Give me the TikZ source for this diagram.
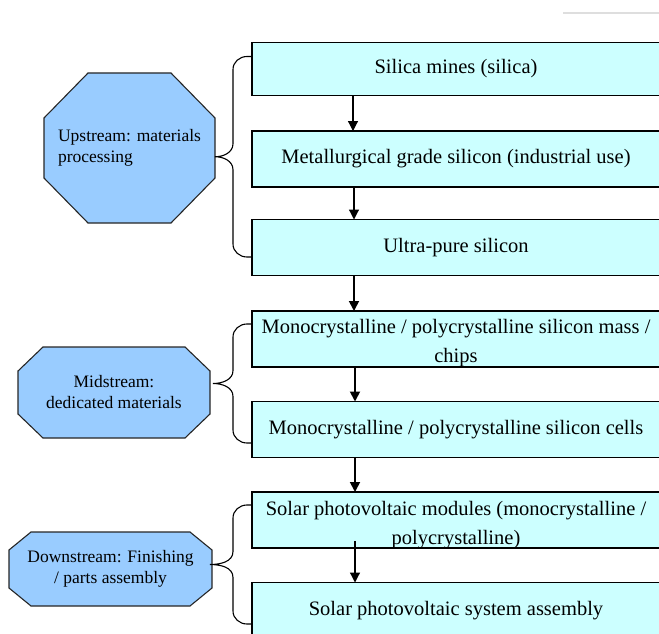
\documentclass[tikz,border=0pt]{standalone}
\usepackage{fontspec}
\setmainfont{Liberation Serif}
\usetikzlibrary{arrows.meta,calc,backgrounds}
\definecolor{boxcyan}{HTML}{CCFFFF}
\definecolor{octblue}{HTML}{99CCFF}
\newcommand\octagonpath[3]{%
  \draw[octline] ([xshift=#2]#1.north west) -- ([xshift=-#2]#1.north east)
    -- ([yshift=-#3]#1.north east) -- ([yshift=#3]#1.south east)
    -- ([xshift=-#2]#1.south east) -- ([xshift=#2]#1.south west)
    -- ([yshift=#3]#1.south west) -- ([yshift=-#3]#1.north west) -- cycle;}
\newcommand\curlybrace[3]{%
  \draw[bracket] let \p1=(#1), \p2=(#2), \p3=(#3), \p4=($(#1)!0.5!(#2)$) in
    (#1) -- (\x1-5pt,\y1) to[out=180,in=90] (\x1-19pt,\y1-13pt)
    -- (\x1-19pt,\y4+13pt) to[out=-90,in=0] (\x3,\y4)
    to[out=0,in=90] (\x1-19pt,\y4-13pt)
    -- (\x1-19pt,\y2+13pt) to[out=-90,in=180] (\x1-5pt,\y2) -- (#2);}
\begin{document}
\begin{tikzpicture}[x=1pt,y=-1pt,
  stagebox/.style={draw=black, line width=1.6pt, fill=boxcyan, minimum width=408pt,
    minimum height=56pt, inner sep=0pt, outer sep=0pt, align=center,
    font=\fontsize{20.5}{29}\selectfont},
  boxtext/.style={inner sep=0pt, align=center, font=\fontsize{20.5}{29}\selectfont},
  octnode/.style={inner sep=0pt, outer sep=0pt, font=\fontsize{17.5}{21}\selectfont},
  octline/.style={draw=black!85, line width=1.1pt, fill=octblue},
  flow/.style={draw=black, line width=1.2pt, -{Triangle[width=10pt,length=10pt]}},
  flowthick/.style={flow, line width=1.8pt},
  bracket/.style={draw=black, line width=1.1pt},
  pagerule/.style={draw=black!13, line width=2pt}
]
\useasboundingbox (0,0) rectangle (659,634);
\clip (0,0) rectangle (659,634);

% stage boxes
\node[stagebox, minimum height=53pt] (b1) at (456,69) {Silica mines (silica)};
\node[stagebox] (b2) at (456,159) {Metallurgical grade silicon (industrial use)};
\node[stagebox] (b3) at (456,247.5) {Ultra-pure silicon};
\node[stagebox] (b4) at (456,339) {};
\node[boxtext] (b4t) at (456,343.5) {Monocrystalline / polycrystalline silicon mass /\\ chips};
\node[stagebox] (b5) at (456,429.5) {Monocrystalline / polycrystalline silicon cells};
\node[stagebox] (b6) at (456,520) {};
\node[boxtext] (b6t) at (456,525.5) {Solar photovoltaic modules (monocrystalline /\\ polycrystalline)};
\node[stagebox] (b7) at (456,610.5) {Solar photovoltaic system assembly};

% arrows
\draw[flow] ([xshift=-103pt]b1.south) -- ([xshift=-103pt]b2.north);
\draw[flow] ([xshift=-102pt]b2.south) -- ([xshift=-102pt]b3.north);
\draw[flowthick] ([xshift=-102pt]b3.south) -- ([xshift=-102pt]b4.north);
\draw[flowthick] ([xshift=-101pt]b4.south) -- ([xshift=-101pt]b5.north);
\draw[flowthick] ([xshift=-101pt]b5.south) -- ([xshift=-101pt]b6.north);
\draw[flow] ([xshift=-101pt,yshift=7pt]b6.south) -- ([xshift=-101pt]b7.north);

% stage labels (octagons)
\node[octnode, minimum width=171pt, minimum height=150pt, align=left] (up) at (129.5,148)
  {Upstream: materials\\processing};
\node[octnode, minimum width=192pt, minimum height=91pt, align=center] (mid) at (114,392.5)
  {Midstream:\\dedicated materials};
\node[octnode, minimum width=203pt, minimum height=74pt, align=center] (down) at (110.5,569)
  {Downstream: Finishing\\/ parts assembly};
\begin{scope}[on background layer]
  \octagonpath{up}{44pt}{45pt}
  \octagonpath{mid}{25pt}{24pt}
  \octagonpath{down}{22pt}{18pt}
\end{scope}

% braces
\coordinate (t1) at ([yshift=12.5pt]b1.west);
\coordinate (u1) at ([yshift=-9.5pt]b3.west);
\coordinate (t2) at ([yshift=15pt]b4.west);
\coordinate (u2) at ([yshift=-13.5pt]b5.west);
\coordinate (t3) at ([yshift=15pt]b6.west);
\coordinate (u3) at ([yshift=-13.5pt]b7.west);
\curlybrace{t1}{u1}{up.east}
\curlybrace{t2}{u2}{[xshift=3pt]mid.east}
\curlybrace{t3}{u3}{[xshift=-2pt]down.east}

% page rule fragment
\coordinate (r1) at (563,13);
\coordinate (r2) at (659,13);
\draw[pagerule] (r1) -- (r2);
\end{tikzpicture}
\end{document}
